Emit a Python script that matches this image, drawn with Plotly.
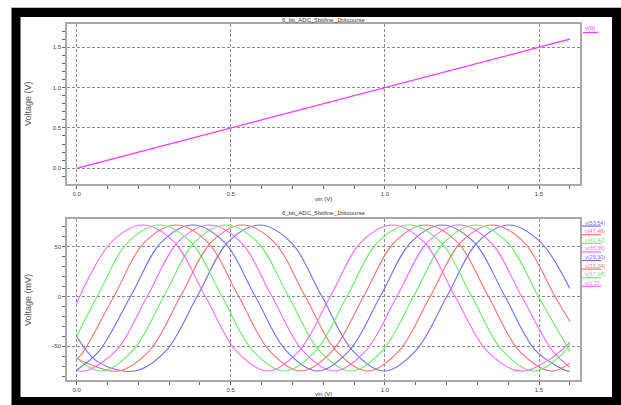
import plotly.graph_objects as go

W, H = 621, 405
FONT = "Liberation Sans"

# ---------------- data ----------------
title_text = "6_bit_ADC_5bitfine_1bitcourse"

vin_top = [0.0, 0.4, 0.8, 1.2, 1.6]
v_0 = [0.0, 0.4, 0.8, 1.2, 1.6]

x_v1_2 = [0.0, 0.114, 0.215, 0.316, 0.418, 0.519, 0.62, 0.721, 0.823, 0.924, 1.025, 1.126, 1.228, 1.332, 1.44, 1.54, 1.6]
y_v1_2 = [-7, 55, 72, 55, 0, -55, -75, -55, 0, 55, 72, 55, 0, -55, -75, -62, -46]

x_v17_18 = [0.0, 0.067, 0.168, 0.269, 0.370, 0.472, 0.573, 0.674, 0.775, 0.877, 0.978, 1.079, 1.180, 1.282, 1.383, 1.484, 1.585, 1.6]
y_v17_18 = [-40, 0, 55, 72, 55, 0, -55, -75, -55, 0, 55, 72, 55, 0, -55, -75, -55, -47]

x_v23_24 = [0.0, 0.019, 0.121, 0.222, 0.323, 0.424, 0.526, 0.627, 0.728, 0.829, 0.931, 1.032, 1.133, 1.234, 1.336, 1.437, 1.538, 1.6]
y_v23_24 = [-63, -57, 0, 55, 72, 55, 0, -55, -75, -55, 0, 55, 72, 55, 0, -55, -75, -67]

x_v29_30 = [0.0, 0.073, 0.175, 0.276, 0.377, 0.478, 0.580, 0.681, 0.782, 0.883, 0.985, 1.086, 1.187, 1.288, 1.390, 1.491, 1.592, 1.6]
y_v29_30 = [-74, -55, 0, 55, 72, 55, 0, -55, -75, -55, 0, 55, 72, 55, 0, -55, -75, -75]

x_v35_36 = [0.0, 0.026, 0.127, 0.229, 0.330, 0.431, 0.532, 0.634, 0.735, 0.836, 0.937, 1.039, 1.140, 1.241, 1.342, 1.444, 1.545, 1.6]
y_v35_36 = [-74, -75, -55, 0, 55, 72, 55, 0, -55, -75, -55, 0, 55, 72, 55, 0, -55, -71]

x_v41_42 = [0.0, 0.080, 0.181, 0.283, 0.384, 0.485, 0.586, 0.688, 0.789, 0.890, 0.991, 1.093, 1.194, 1.295, 1.396, 1.498, 1.6]
y_v41_42 = [-62, -75, -55, 0, 55, 72, 55, 0, -55, -75, -55, 0, 55, 72, 55, 0, -55]

x_v47_48 = [0.0, 0.033, 0.134, 0.235, 0.337, 0.438, 0.539, 0.640, 0.742, 0.843, 0.944, 1.045, 1.147, 1.248, 1.349, 1.450, 1.552, 1.6]
y_v47_48 = [-62, -67, -75, -55, 0, 55, 72, 55, 0, -55, -75, -55, 0, 55, 72, 55, 0, -25]

x_v53_54 = [0.0, 0.07, 0.188, 0.289, 0.391, 0.492, 0.593, 0.694, 0.796, 0.897, 0.998, 1.099, 1.201, 1.302, 1.403, 1.504, 1.6]
y_v53_54 = [-40, -66, -75, -55, 0, 55, 72, 55, 0, -55, -75, -55, 0, 55, 72, 55, 8]

x_ticks = [0.0, 0.5, 1.0, 1.5]
x_ticklabels = ["0.0", "0.5", "1.0", "1.5"]
top_y_ticks = [0.0, 0.5, 1.0, 1.5]
top_y_ticklabels = ["0.0", "0.5", "1.0", "1.5"]
bot_y_ticks = [-50, 0, 50]
bot_y_ticklabels = ["-50", "0", "50"]

MAG, RED, GRN, BLU = "#ff66ff", "#ff6e6e", "#66ee66", "#6e6eff"

series = [  # legend order top -> bottom
    ("v(53,54)", x_v53_54, y_v53_54, BLU),
    ("v(47,48)", x_v47_48, y_v47_48, RED),
    ("v(41,42)", x_v41_42, y_v41_42, GRN),
    ("v(35,36)", x_v35_36, y_v35_36, MAG),
    ("v(29,30)", x_v29_30, y_v29_30, BLU),
    ("v(23,24)", x_v23_24, y_v23_24, RED),
    ("v(17,18)", x_v17_18, y_v17_18, GRN),
    ("v(1,2)", x_v1_2, y_v1_2, MAG),
]

# ---------------- layout helpers (pixel -> paper) ----------------
def px(x):
    return x / W

def py(y):
    return 1 - y / H

PL, PR = 67, 580
T_TOP, T_BOT = 24, 184
B_TOP, B_BOT = 219, 380

fig = go.Figure()

fig.add_trace(go.Scatter(x=vin_top, y=v_0, mode="lines", name="v(0)",
                         line=dict(color="#ff33ff", width=1.3),
                         xaxis="x", yaxis="y", showlegend=False))

for name, xs, ys, col in series:
    fig.add_trace(go.Scatter(x=xs, y=ys, mode="lines", name=name,
                             line=dict(color=col, width=1.1, shape="spline", smoothing=1.0),
                             xaxis="x2", yaxis="y2", showlegend=False))

grid = dict(showgrid=True, gridcolor="#8a8a8a", griddash="3px,2px", gridwidth=1,
            zeroline=False, showline=True, linecolor="#a8a8a8", linewidth=1.5, mirror=True,
            ticks="outside", ticklen=3, tickcolor="#666", tickwidth=1,
            tickfont=dict(family=FONT, size=6, color="#444"))

fig.update_layout(
    width=W, height=H, autosize=False,
    margin=dict(l=0, r=0, t=0, b=0),
    paper_bgcolor="white", plot_bgcolor="white",
    xaxis=dict(domain=[px(PL), px(PR)], range=[-0.031, 1.633], anchor="y",
               tickvals=x_ticks, ticktext=x_ticklabels,
               minor=dict(dtick=0.1, ticks="outside", ticklen=3, tickcolor="#666", showgrid=False),
               **grid),
    yaxis=dict(domain=[py(T_BOT), py(T_TOP)], range=[-0.195, 1.788], anchor="x",
               tickvals=top_y_ticks, ticktext=top_y_ticklabels,
               minor=dict(dtick=0.1, ticks="outside", ticklen=3, tickcolor="#666", showgrid=False),
               **grid),
    xaxis2=dict(domain=[px(PL), px(PR)], range=[-0.031, 1.633], anchor="y2",
                tickvals=x_ticks, ticktext=x_ticklabels,
                minor=dict(dtick=0.1, ticks="outside", ticklen=3, tickcolor="#666", showgrid=False),
                **grid),
    yaxis2=dict(domain=[py(B_BOT), py(B_TOP)], range=[-84, 78], anchor="x2",
                tickvals=bot_y_ticks, ticktext=bot_y_ticklabels,
                minor=dict(dtick=10, ticks="outside", ticklen=3, tickcolor="#666", showgrid=False),
                **grid),
)

ann = []
def text(x, y, s, size=6, color="#333", angle=0, xanchor="center"):
    ann.append(dict(x=px(x), y=py(y), xref="paper", yref="paper", text=s, showarrow=False,
                    font=dict(family=FONT, size=size, color=color), textangle=angle,
                    xanchor=xanchor, yanchor="middle"))

text((PL + PR) / 2, 20, title_text, size=6)
text((PL + PR) / 2, 213, title_text, size=6)
text((PL + PR) / 2, 199, "vin (V)", size=6)
text((PL + PR) / 2, 394, "vin (V)", size=6)
text(28, 104, "Voltage (V)", size=9, color="#555", angle=-90)
text(28, 300, "Voltage (mV)", size=9, color="#555", angle=-90)

shapes = []
# legend for top plot
text(583, 28, "v(0)", size=6, color="#ff33ff", xanchor="left")
shapes.append(dict(type="line", xref="paper", yref="paper", x0=px(583), x1=px(598),
                   y0=py(32.5), y1=py(32.5), line=dict(color="#ff33ff", width=1.2)))
# legend for bottom plot
for k, (name, xs, ys, col) in enumerate(series):
    yy = 222.5 + k * 8.6
    text(583, yy, name, size=5.5, color=col, xanchor="left")
    shapes.append(dict(type="line", xref="paper", yref="paper", x0=px(582), x1=px(601),
                       y0=py(yy + 3.6), y1=py(yy + 3.6), line=dict(color=col, width=1.2)))

# black picture frame
shapes.append(dict(type="rect", xref="paper", yref="paper", x0=px(16), x1=px(616.5),
                   y0=py(401.5), y1=py(12.5), line=dict(color="black", width=9)))
shapes.append(dict(type="line", xref="paper", yref="paper", x0=px(11), x1=px(621),
                   y0=py(7.5), y1=py(7.5), line=dict(color="#bbbbbb", width=1)))

fig.update_layout(annotations=ann, shapes=shapes)

fig.write_html("out.html", config={"displayModeBar": False},
               post_script="document.body.style.margin='0';document.body.style.overflow='hidden';")
